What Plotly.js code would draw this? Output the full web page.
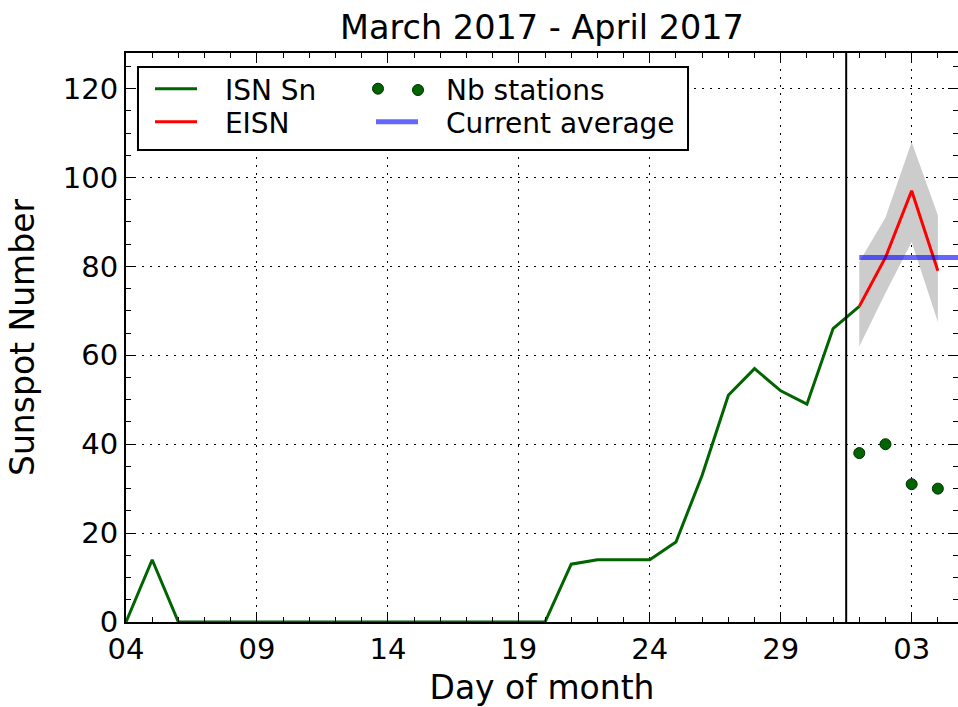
<!DOCTYPE html>
<html>
<head>
<meta charset="utf-8">
<script src="https://cdn.plot.ly/plotly-3.0.1.min.js"></script>
<style>html,body{margin:0;padding:0;background:#fff;}</style>
</head>
<body>
<div id="chart" style="width:958px;height:707px;"></div>
<script>
// ---- data ----
const isnDates = ['2017-03-04','2017-03-05','2017-03-06','2017-03-07','2017-03-08','2017-03-09','2017-03-10','2017-03-11','2017-03-12','2017-03-13','2017-03-14','2017-03-15','2017-03-16','2017-03-17','2017-03-18','2017-03-19','2017-03-20','2017-03-21','2017-03-22','2017-03-23','2017-03-24','2017-03-25','2017-03-26','2017-03-27','2017-03-28','2017-03-29','2017-03-30','2017-03-31','2017-04-01'];
const isnValues = [0,14,0,0,0,0,0,0,0,0,0,0,0,0,0,0,0,13,14,14,14,18,33,51,57,52,49,66,71];
const eisnDates = ['2017-04-01','2017-04-02','2017-04-03','2017-04-04'];
const eisnValues = [71,82,97,79];
const eisnUpper = [81,91,108,91.5];
const eisnLower = [62,74,85.5,67.5];
const stationValues = [38,40,31,30];
const avgDates = ['2017-04-01','2017-04-06'];
const avgValues = [82,82];
const boundaryDate = '2017-03-31 12:00';
const xTickVals = ['2017-03-04','2017-03-09','2017-03-14','2017-03-19','2017-03-24','2017-03-29','2017-04-03'];
const xTickText = ['04','09','14','19','24','29','03'];
const yTickVals = [0,20,40,60,80,100,120];
const yTickText = ['0','20','40','60','80','100','120'];
const seriesNames = ['ISN Sn','EISN','Nb stations','Current average'];

const FONT = 'DejaVu Sans';
const GREEN = '#006400';
const EN = '\u2002', NB = '\u00a0';

const traces = [
  {x: eisnDates.concat(eisnDates.slice().reverse()),
   y: eisnUpper.concat(eisnLower.slice().reverse()),
   type:'scatter', mode:'lines', fill:'toself', fillcolor:'#cccccc',
   line:{width:0, color:'#cccccc'}, showlegend:false, hoverinfo:'skip'},
  {x: isnDates, y: isnValues, type:'scatter', mode:'lines', name:EN+NB+seriesNames[0],
   line:{color:GREEN, width:3}, legend:'legend'},
  {x: eisnDates, y: eisnValues, type:'scatter', mode:'lines', name:EN+NB+seriesNames[1],
   line:{color:'#ff0000', width:3}, legend:'legend2'},
  {x: eisnDates, y: stationValues, type:'scatter', mode:'markers', name:EN+EN+EN+seriesNames[2],
   marker:{color:GREEN, size:11, line:{color:'#003000', width:1}}, legend:'legend3'},
  {x: avgDates, y: avgValues, type:'scatter', mode:'lines', name:EN+NB+seriesNames[3],
   line:{color:'rgba(0,0,255,0.6)', width:5}, legend:'legend4'}
];

const axisCommon = {
  showline:true, linecolor:'#000', linewidth:2, mirror:'allticks',
  ticks:'inside', ticklen:10, tickwidth:1, tickcolor:'#000',
  showgrid:true, gridcolor:'#000', gridwidth:1, griddash:'2px,6px',
  zeroline:false, tickfont:{family:FONT, size:29, color:'#000'}
};

function legendAt(px, topPx) {
  return {x:(px-126)/832, xanchor:'left', y:(622-topPx)/569, yanchor:'top',
          bgcolor:'rgba(0,0,0,0)', borderwidth:0, itemwidth:42,
          font:{family:FONT, size:28, color:'#000'}};
}
// second legend dot for "Nb stations" (matplotlib numpoints=2)
const dotX = 418, dotY = 90, dotR = 5.5;

const layout = {
  width:958, height:707,
  margin:{l:126, r:0, t:53, b:85},
  paper_bgcolor:'#fff', plot_bgcolor:'#fff',
  font:{family:FONT, color:'#000'},
  title:{text:'March 2017 - April 2017', font:{family:FONT, size:33.5, color:'#000'},
         xref:'paper', x:0.5, xanchor:'center', yref:'container', y:0.961, yanchor:'middle'},
  xaxis: Object.assign({}, axisCommon, {
    type:'date', range:['2017-03-04','2017-04-04 18:28'],
    tickmode:'array', tickvals:xTickVals, ticktext:xTickText,
    minor:{tickmode:'linear', tick0:'2017-03-04', dtick:86400000, ticks:'inside', ticklen:5, tickcolor:'#000', showgrid:false},
    title:{text:'Day of month', font:{family:FONT, size:33, color:'#000'}, standoff:11}
  }),
  yaxis: Object.assign({}, axisCommon, {
    range:[0,128], tickmode:'array', tickvals:yTickVals, ticktext:yTickText,
    minor:{tickmode:'linear', tick0:0, dtick:5, ticks:'inside', ticklen:5, tickcolor:'#000', showgrid:false},
    title:{text:'Sunspot Number', font:{family:FONT, size:33, color:'#000'}, standoff:18}
  }),
  shapes:[
    {type:'rect', xref:'paper', yref:'paper', x0:0.0144, x1:0.6755, y0:0.8295, y1:0.9754,
     line:{color:'#000', width:2}, fillcolor:'#fff', layer:'above'},
    {type:'circle', xref:'paper', yref:'paper',
     x0:(dotX-dotR-126)/832, x1:(dotX+dotR-126)/832, y0:(622-dotY-dotR)/569, y1:(622-dotY+dotR)/569,
     line:{color:'#003000', width:1}, fillcolor:GREEN, layer:'above'},
    {type:'line', xref:'x', yref:'paper', x0:boundaryDate, x1:boundaryDate, y0:0, y1:1,
     line:{color:'#000', width:2}}
  ],
  legend: legendAt(150, 64),
  legend2: legendAt(150, 97),
  legend3: legendAt(352, 64),
  legend4: legendAt(371, 97),
  showlegend:true
};

Plotly.newPlot('chart', traces, layout, {displayModeBar:false, staticPlot:true});
</script>
</body>
</html>
